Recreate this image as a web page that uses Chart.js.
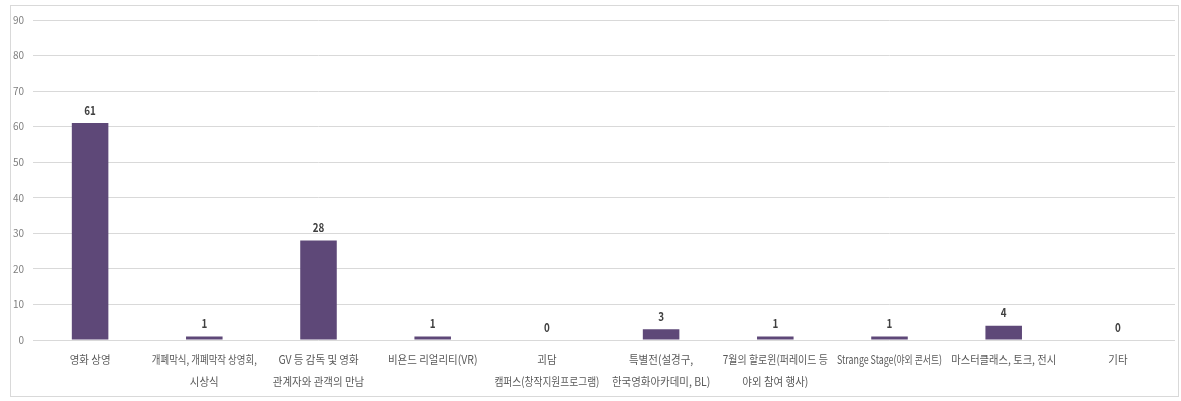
<!DOCTYPE html>
<html>
<head>
<meta charset="utf-8">
<script src="https://cdn.jsdelivr.net/npm/chart.js@4/dist/chart.umd.min.js"></script>
<style>
  html, body { margin: 0; padding: 0; background: #ffffff; }
  #wrap { width: 1181px; height: 401px; position: relative; }
</style>
</head>
<body>
<div id="wrap"><canvas id="c" width="1181" height="401"></canvas></div>
<script>
// Programme categories (each entry split into display lines)
const categories = [
  ['영화 상영'],
  ['개폐막식, 개폐막작 상영회,', '시상식'],
  ['GV 등 감독 및 영화', '관계자와 관객의 만남'],
  ['비욘드 리얼리티(VR)'],
  ['괴담', '캠퍼스(창작지원프로그램)'],
  ['특별전(설경구,', '한국영화아카데미, BL)'],
  ['7월의 할로윈(퍼레이드 등', '야외 참여 행사)'],
  ['Strange Stage(야외 콘서트)'],
  ['마스터클래스, 토크, 전시'],
  ['기타']
];
const counts = [61, 1, 28, 1, 0, 3, 1, 1, 4, 0];
const yTicks = [0, 10, 20, 30, 40, 50, 60, 70, 80, 90];

const FONT = '"Noto Sans CJK KR", "Noto Sans", sans-serif';

// Outer frame around the whole chart
const framePlugin = {
  id: 'frame',
  beforeDraw(chart) {
    const ctx = chart.ctx;
    ctx.save();
    ctx.fillStyle = '#ffffff';
    ctx.fillRect(0, 0, chart.width, chart.height);
    ctx.strokeStyle = '#d9d9d9';
    ctx.lineWidth = 1;
    ctx.strokeRect(10.5, 5.5, 1168, 391);
    ctx.restore();
  }
};

// Draw text slightly condensed horizontally, squeezing further if it exceeds maxW
function condensedText(ctx, text, x, y, sx, maxW) {
  const w = ctx.measureText(text).width;
  if (maxW && w * sx > maxW) sx = maxW / w;
  ctx.save();
  ctx.translate(x, y);
  ctx.scale(sx, 1);
  ctx.fillText(text, 0, 0);
  ctx.restore();
}

// Value labels above each bar
const valueLabels = {
  id: 'valueLabels',
  afterDatasetsDraw(chart) {
    const ctx = chart.ctx;
    const meta = chart.getDatasetMeta(0);
    ctx.save();
    ctx.font = 'bold 12px ' + FONT;
    ctx.fillStyle = '#404040';
    ctx.textAlign = 'center';
    ctx.textBaseline = 'middle';
    meta.data.forEach((bar, i) => {
      condensedText(ctx, String(counts[i]), bar.x, bar.y - 13, 0.82);
    });
    ctx.restore();
  }
};

// Category labels under the axis, one or two lines each
const categoryLabels = {
  id: 'categoryLabels',
  afterDraw(chart) {
    const ctx = chart.ctx;
    const xs = chart.scales.x;
    const base = chart.chartArea.bottom;
    ctx.save();
    ctx.font = '11.5px ' + FONT;
    ctx.fillStyle = '#595959';
    ctx.textAlign = 'center';
    ctx.textBaseline = 'middle';
    categories.forEach((lines, i) => {
      const x = xs.getPixelForValue(i);
      lines.forEach((line, j) => {
        condensedText(ctx, line, x, base + 20 + j * 22, 0.91, 105);
      });
    });
    ctx.restore();
  }
};

new Chart(document.getElementById('c'), {
  type: 'bar',
  data: {
    labels: categories,
    datasets: [{
      data: counts,
      backgroundColor: '#5e4878',
      borderWidth: 0,
      barPercentage: 0.32,
      categoryPercentage: 1.0
    }]
  },
  options: {
    responsive: false,
    animation: false,
    devicePixelRatio: 1,
    layout: { padding: { top: 20, right: 6, bottom: 0, left: 0 } },
    plugins: {
      legend: { display: false },
      tooltip: { enabled: false }
    },
    scales: {
      x: {
        grid: { display: false, drawTicks: false },
        border: { display: false },
        ticks: { display: false },
        afterFit(scale) { scale.height = 61; }
      },
      y: {
        min: 0,
        max: 90,
        afterBuildTicks(scale) { scale.ticks = yTicks.map(v => ({ value: v })); },
        grid: { color: '#d9d9d9', drawTicks: false, lineWidth: 1 },
        border: { display: false },
        ticks: {
          padding: 9,
          color: '#7f7f7f',
          font: { family: FONT, size: 10 }
        },
        afterFit(scale) { scale.width = 33; }
      }
    }
  },
  plugins: [framePlugin, valueLabels, categoryLabels]
});
</script>
</body>
</html>
